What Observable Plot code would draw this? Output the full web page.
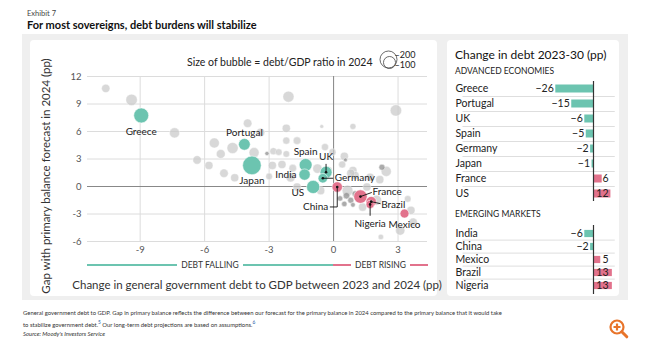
<!DOCTYPE html>
<html><head><meta charset="utf-8">
<script src="https://cdn.jsdelivr.net/npm/d3@7"></script>
<script src="https://cdn.jsdelivr.net/npm/@observablehq/plot@0.6"></script>
<style>
body{margin:0;width:650px;height:350px;background:#fff;font-family:Lato,"Open Sans",sans-serif;position:relative;overflow:hidden;color:#222}
.abs{position:absolute;white-space:nowrap}
.seg{height:2px;flex:1}
</style></head><body>
<script>
// ---------- DATA ----------
// Named sovereigns (scatter)
const namedCountries = ["Greece","Portugal","Japan","Spain","India","UK","Germany","US","China","France","Brazil","Nigeria","Mexico"];
const namedDebtChange = [-8.95,-4.15,-3.8,-1.3,-1.35,-0.35,-0.5,-0.95,0.17,1.25,1.75,1.7,3.3];   // x
const namedBalanceGap = [7.75,4.6,2.3,2.35,1.3,1.55,0.9,-0.05,-0.05,-1.1,-1.65,-1.95,-2.95];    // y
const namedDebtGDP = [155,95,240,115,88,100,63,120,75,125,75,45,55];                          // bubble size

// Other sovereigns (grey bubbles)
const otherDebtChange = [-10.6,-9.4,-7.4,-4.0,-2.1,2.9,-2.2,-0.55,0.9,-5.55,-4.7,-5.25,-6.35,-5.8,-5.1,-4.6,-3.7,-3.4,-2.8,-2.85,-2.4,-2.2,-1.7,-2.2,-1.9,-3.0,-0.4,-0.05,0.5,2.45,0.9,-0.75,-0.25,3.45,3.1,3.6,2.2,1.35,0.65,2.0,1.55,1.0,1.7,-0.6,-1.7,-2.0,0.4,0.8,2.15,3.7,-2.55];
const otherBalanceGap = [10.7,9.45,5.85,6.9,9.8,8.3,6.35,6.55,6.55,4.75,4.2,3.55,2.9,2.3,1.45,0.95,3.7,5.9,3.85,2.3,2.4,5.0,5.0,3.55,2.0,1.1,4.3,3.75,3.3,1.65,1.75,1.95,1.75,-1.35,-4.8,-2.6,-5.5,-2.25,-0.45,-1.5,-0.05,1.2,1.0,-0.45,-0.05,1.0,2.4,1.45,0.75,-3.9,3.75];
const otherDebtGDP = [48,90,70,50,85,90,45,10,25,70,85,55,50,45,50,45,70,50,35,45,45,35,40,30,40,30,35,35,45,70,45,60,45,30,60,45,20,45,80,70,45,45,45,45,45,60,35,45,45,50,30];

// Darker small bubbles in the dense cluster
const darkDebtChange = [-3.1,0.6,0.8,0.5,1.0,0.3,0.9,0.55,2.25];
const darkBalanceGap = [3.6,-1.0,-1.5,-1.9,-0.8,-1.3,-2.0,2.9,2.1];
const darkDebtGDP = [12,30,25,20,25,20,15,10,25];

// Bubble size legend
const sizeLegend = [200, 100];

// Axis ticks
const xTicks = [-9,-6,-3,0,3];
const yTicks = [-6,-3,0,3,6,9,12];

// Right panel: change in debt 2023-30 (pp)
const advNames = ["Greece","Portugal","UK","Spain","Germany","Japan","France","US"];
const advChange = [-26,-15,-6,-5,-2,-1,6,12];
const emNames = ["India","China","Mexico","Brazil","Nigeria"];
const emChange = [-6,-2,5,13,13];

// ---------- STYLE ----------
const TEAL = "#6cc4b0", PINK = "#e2728c", FONT = "Lato, 'Open Sans', sans-serif";

const named = namedCountries.map((c,i)=>({c, x:namedDebtChange[i], y:namedBalanceGap[i], r:namedDebtGDP[i]}));
const others = otherDebtChange.map((x,i)=>({x, y:otherBalanceGap[i], r:otherDebtGDP[i]}));
const darks = darkDebtChange.map((x,i)=>({x, y:darkBalanceGap[i], r:darkDebtGDP[i]}));
const byName = Object.fromEntries(named.map(d=>[d.c,d]));
const pick = (...n)=>n.map(k=>byName[k]);

function lbl(list, opts){ return Plot.text(pick(...list), {x:"x", y:"y", text:"c", fontSize:10, fill:"#222", ...opts}); }
const lineShape = (pts)=>({draw(ctx){ ctx.moveTo(0,0); for(const [a,b] of pts) ctx.lineTo(a,b); }});
function leader(country, pts){ return Plot.vector(pick(country), {x:"x", y:"y", length:1, anchor:"start", shape:lineShape(pts), stroke:"#111", strokeWidth:0.9}); }

const scatter = Plot.plot({
  width:407, height:256, marginLeft:57, marginRight:10, marginTop:36, marginBottom:55,
  style:{fontFamily:FONT, color:"#555", background:"transparent", overflow:"visible"},
  x:{domain:[-11.45,4.37]},
  y:{domain:[-6,12]},
  r:{type:"sqrt", domain:[0,200], range:[0,8.5]},
  marks:[
    Plot.gridX(xTicks, {stroke:"#dcdcdc", strokeOpacity:1}),
    Plot.gridY(yTicks, {stroke:"#dcdcdc", strokeOpacity:1}),
    Plot.ruleX([0], {stroke:"#888"}),
    Plot.ruleY([0], {stroke:"#888"}),
    Plot.axisX(xTicks, {tickSize:0, tickPadding:5, label:null, fontSize:9.5, tickFormat:d=>String(d)}),
    Plot.axisY(yTicks, {tickSize:0, tickPadding:6, label:null, fontSize:9.5, tickFormat:d=>String(d)}),
    Plot.dot(others, {x:"x", y:"y", r:"r", fill:"#c9c9c9", fillOpacity:0.72, stroke:"#fff", strokeWidth:0.4}),
    Plot.dot(darks, {x:"x", y:"y", r:"r", fill:"#8f8f8f", fillOpacity:0.75, stroke:"#eee", strokeWidth:0.6}),
    Plot.dot(named, {x:"x", y:"y", r:"r", fill:d=>d.x<0?TEAL:PINK, stroke:"#fff", strokeWidth:0.8, strokeOpacity:0.7}),
    // leaders
    leader("UK", [[0,-8]]),
    leader("Germany", [[10,0]]),
    leader("China", [[0,20],[-7,20]]),
    leader("France", [[11,-4]]),
    leader("Brazil", [[9,2]]),
    leader("Nigeria", [[0,11]]),
    Plot.dot(pick("UK","Germany","China","France","Brazil","Nigeria"), {x:"x", y:"y", r:1.3, fill:"#111"}),
    // labels
    lbl(["Greece"], {dy:16}),
    lbl(["Portugal"], {dy:-12}),
    lbl(["Japan"], {dy:15}),
    lbl(["Spain"], {dy:-13}),
    lbl(["India"], {textAnchor:"end", dx:-8}),
    lbl(["US"], {textAnchor:"end", dx:-9, dy:6}),
    lbl(["UK"], {dy:-15}),
    lbl(["Germany"], {textAnchor:"start", dx:12}),
    lbl(["China"], {textAnchor:"end", dx:-9, dy:20}),
    lbl(["France"], {textAnchor:"start", dx:12, dy:-5}),
    lbl(["Brazil"], {textAnchor:"start", dx:10, dy:3.5}),
    lbl(["Nigeria"], {dy:19}),
    lbl(["Mexico"], {dy:11}),
    // bubble size legend
    Plot.dot([sizeLegend[0]], {r:d=>d, frameAnchor:"top-right", dx:-39, dy:-17, fill:"none", stroke:"#444", strokeWidth:0.8}),
    Plot.dot([sizeLegend[1]], {r:d=>d, frameAnchor:"top-right", dx:-38, dy:-14, fill:"none", stroke:"#444", strokeWidth:0.8}),
    Plot.text([sizeLegend[0]], {text:d=>"–"+d, frameAnchor:"top-right", textAnchor:"start", dx:-33, dy:-24, fontSize:9, fill:"#222", lineHeight:0.9}),
    Plot.text([sizeLegend[1]], {text:d=>"–"+d, frameAnchor:"top-right", textAnchor:"start", dx:-33, dy:-14, fontSize:9, fill:"#222", lineHeight:0.9}),
    Plot.text(["Size of bubble = debt/GDP ratio in 2024"], {text:d=>d, frameAnchor:"top-right", textAnchor:"end", dx:-55, dy:-18, fontSize:10.5, fill:"#222"})
  ]
});

function barPanel(names, values, rowH){
  const rows = names.map((n,i)=>({n, v:values[i]}));
  const H = rowH*names.length;
  return Plot.plot({
    width:173, height:H, marginLeft:8, marginRight:7, marginTop:0, marginBottom:0,
    style:{fontFamily:FONT, color:"#222", background:"transparent", overflow:"visible"},
    x:{domain:[-30,15], range:[102.5,167.75], axis:null},
    y:{domain:names, range:[0,H], padding:0, axis:null},
    marks:[
      Plot.ruleY(names.slice(1), {y:d=>d, dy:-rowH/2, x1:-90, x2:15, stroke:"#dedede"}),
      Plot.barX(rows, {x:"v", y:"n", fill:d=>d.v<0?TEAL:PINK, insetTop:(rowH-8)/2, insetBottom:(rowH-8)/2}),
      Plot.ruleX([0], {stroke:"#333", strokeWidth:1.2}),
      Plot.text(rows, {y:"n", text:"n", frameAnchor:"left", textAnchor:"start", fontSize:10.5, fill:"#222"}),
      Plot.text(rows.filter(d=>d.v<0), {x:"v", y:"n", text:d=>"−"+Math.abs(d.v), textAnchor:"end", dx:-2, fontSize:10.5, fill:"#222"}),
      Plot.text(rows.filter(d=>d.v>0), {y:"n", text:d=>String(d.v), frameAnchor:"right", textAnchor:"end", dx:-5, fontSize:10.5, fill:"#222"})
    ]
  });
}

document.body.insertAdjacentHTML("beforeend", `
<div class="abs" style="left:27px;top:9px;font-size:7.5px;color:#444">Exhibit 7</div>
<div class="abs" style="left:27px;top:18px;font-size:11px;font-weight:bold;color:#111">For most sovereigns, debt burdens will stabilize</div>
<div class="abs" style="left:22px;top:34px;width:606px;height:266px;background:#efefef"></div>
<div class="abs" style="left:30px;top:40px;width:407px;height:256px;background:#fff;border-radius:4px"></div>
<div class="abs" style="left:447px;top:40px;width:172px;height:256px;background:#fff;border-radius:4px"></div>
<div id="scatter" class="abs" style="left:30px;top:40px"></div>
<div class="abs" style="left:45px;top:176px;width:0;height:0"><div style="position:absolute;transform:translate(-50%,-50%) rotate(-90deg);font-size:11.5px;color:#333">Gap with primary balance forecast in 2024 (pp)</div></div>
<div class="abs" style="left:257px;top:284px;width:0;height:0"><div style="position:absolute;transform:translate(-50%,-50%);font-size:11.5px;color:#333">Change in general government debt to GDP between 2023 and 2024 (pp)</div></div>
<div class="abs" style="left:87px;top:259px;width:246px;height:12px;display:flex;align-items:center;font-size:8.5px;color:#333">
  <div class="seg" style="background:${TEAL}"></div><div style="padding:0 4px">DEBT FALLING</div><div class="seg" style="background:${TEAL}"></div></div>
<div class="abs" style="left:333px;top:259px;width:95px;height:12px;display:flex;align-items:center;font-size:8.5px;color:#333">
  <div class="seg" style="background:${PINK}"></div><div style="padding:0 4px">DEBT RISING</div><div class="seg" style="background:${PINK}"></div></div>
<div class="abs" style="left:455px;top:47px;font-size:12px;color:#111">Change in debt 2023-30 (pp)</div>
<div class="abs" style="left:455px;top:66px;font-size:8.5px;color:#222">ADVANCED ECONOMIES</div>
<div id="adv" class="abs" style="left:447px;top:80.5px"></div>
<div class="abs" style="left:455px;top:209px;font-size:8.5px;color:#222">EMERGING MARKETS</div>
<div id="em" class="abs" style="left:447px;top:225px"></div>
<div class="abs" style="left:23px;top:308px;font-size:5.9px;color:#333;line-height:9.5px">General government debt to GDP. Gap in primary balance reflects the difference between our forecast for the primary balance in 2024 compared to the primary balance that it would take<br>to stabilize government debt.<sup style="font-size:4.8px;color:#1a5ea8">5</sup> Our long-term debt projections are based on assumptions.<sup style="font-size:4.8px;color:#1a5ea8">6</sup><br><i>Source: Moody's Investors Service</i></div>
<svg class="abs" style="left:608px;top:318px" width="22" height="22" viewBox="0 0 22 22"><circle cx="9" cy="9" r="6.5" fill="none" stroke="#e8742a" stroke-width="2.2"/><path d="M9 5.5v7M5.5 9h7" stroke="#e8742a" stroke-width="2.2"/><path d="M13.8 13.8l5 5" stroke="#e8742a" stroke-width="3" stroke-linecap="round"/></svg>
`);
document.getElementById("scatter").append(scatter);
document.getElementById("adv").append(barPanel(advNames, advChange, 15));
document.getElementById("em").append(barPanel(emNames, emChange, 13.8));
</script>
</body></html>
